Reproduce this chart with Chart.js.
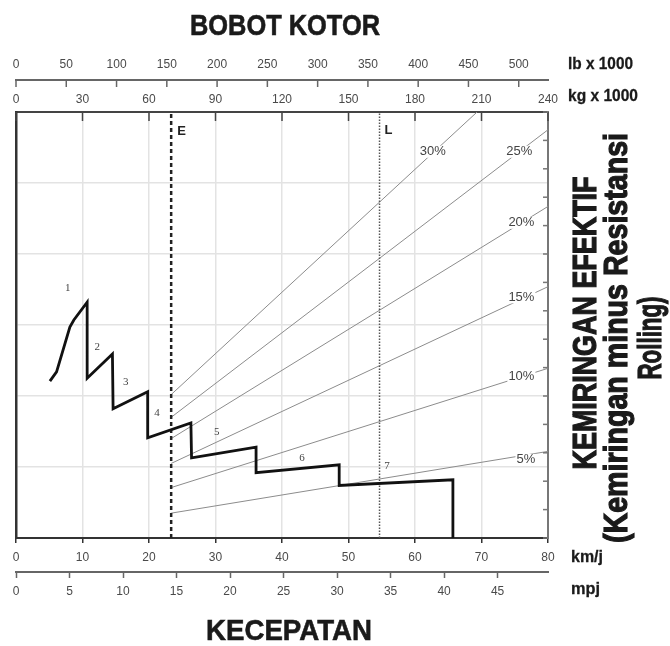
<!DOCTYPE html>
<html>
<head>
<meta charset="utf-8">
<script src="https://cdn.jsdelivr.net/npm/chart.js@4.4.1/dist/chart.umd.min.js"></script>
<style>
  html, body { margin: 0; padding: 0; background: #fff; }
  #wrap { width: 670px; height: 646px; }
</style>
</head>
<body>
<div id="wrap"><canvas id="chart" width="670" height="646"></canvas></div>
<script>
// kurva rimpull (km/j, nilai relatif terhadap grid 0-60)
const rimpullKmh = [5.1, 6.1, 8.1, 8.7, 10.7, 10.7, 14.5, 14.6, 19.8, 19.8, 26.3, 26.4, 36.1, 36.1, 48.6, 48.6, 65.7, 65.7];
const rimpullVal = [22.1, 23.4, 29.7, 30.7, 33.2, 22.5, 25.9, 18.2, 20.6, 14.1, 16.2, 11.3, 12.8, 9.2, 10.3, 7.4, 8.2, 0];

const gearLabels = ['1', '2', '3', '4', '5', '6', '7'];
const gearLabelKmh = [7.8, 12.2, 16.5, 21.2, 30.2, 43.0, 55.8];
const gearLabelVal = [35.2, 26.9, 22.0, 17.6, 14.9, 11.3, 10.1];

// garis kemiringan efektif, mulai dari garis E (bobot kosong), sumbu kg x 1000
const gradeLabels = ['30%', '25%', '20%', '15%', '10%', '5%'];
const gradeStartVal = [20.2, 17.0, 14.0, 10.5, 7.1, 3.5];
const gradeEndKg = [208, 240, 240, 240, 240, 240];
const gradeEndVal = [60, 57.5, 46.7, 35.4, 23.9, 12.2];
const gradeLabelKg = [188, 227, 228, 228, 228, 230];
const gradeLabelVal = [54.4, 54.4, 44.4, 33.9, 22.7, 11.0];

const emptyKg = 70;    // E
const loadedKg = 164;  // L

const kgMax = 240;
const lbMax = 240 / 0.45359;   // 240 000 kg dalam lb
const kmhMax = 80;
const mphMax = 80 / 1.609344;

const narrow = "'Liberation Sans Narrow', 'Liberation Sans', Arial, sans-serif";
const plain = "'Liberation Sans', Arial, sans-serif";

function fitText(ctx, text, x, y, width, align, stroke) {
    const w = ctx.measureText(text).width;
    ctx.save();
    ctx.translate(x, y);
    ctx.scale(width / w, 1);
    ctx.textAlign = align;
    ctx.fillText(text, 0, 0);
    if (stroke) {
        ctx.lineWidth = stroke;
        ctx.strokeStyle = ctx.fillStyle;
        ctx.strokeText(text, 0, 0);
    }
    ctx.restore();
}

// tick kecil yang mengarah ke dalam (sumbu kg, lb dan sisi kanan)
const innerTicks = {
    id: 'innerTicks',
    afterDraw(chart) {
        const ctx = chart.ctx;
        const marks = [
            { id: 'kg', len: 9, color: '#444' },
            { id: 'lb', len: 7, color: '#666' },
            { id: 'y2', len: 5, color: '#777' }
        ];
        ctx.save();
        marks.forEach(m => {
            const s = chart.scales[m.id];
            ctx.strokeStyle = m.color;
            ctx.lineWidth = 1.5;
            s.ticks.forEach(t => {
                const p = s.getPixelForValue(t.value);
                ctx.beginPath();
                if (s.isHorizontal()) {
                    ctx.moveTo(p, s.bottom);
                    ctx.lineTo(p, s.bottom + m.len);
                } else {
                    ctx.moveTo(s.left, p);
                    ctx.lineTo(s.left - m.len, p);
                }
                ctx.stroke();
            });
        });
        ctx.restore();
    }
};

// label di dalam grafik
const plotLabels = {
    id: 'plotLabels',
    afterDatasetsDraw(chart) {
        const ctx = chart.ctx;
        const km = chart.scales.x, kg = chart.scales.kg, y = chart.scales.y;
        ctx.save();
        ctx.textBaseline = 'middle';

        ctx.font = '11px ' + "'Liberation Serif', serif";
        ctx.fillStyle = '#444';
        ctx.textAlign = 'center';
        gearLabels.forEach((g, i) => {
            ctx.fillText(g, km.getPixelForValue(gearLabelKmh[i]), y.getPixelForValue(gearLabelVal[i]));
        });

        ctx.font = '13px ' + narrow;
        gradeLabels.forEach((g, i) => {
            const px = kg.getPixelForValue(gradeLabelKg[i]);
            const py = y.getPixelForValue(gradeLabelVal[i]);
            const w = ctx.measureText(g).width;
            ctx.fillStyle = '#fff';
            ctx.fillRect(px - w / 2 - 1, py - 6, w + 2, 12);
            ctx.fillStyle = '#444';
            ctx.fillText(g, px, py);
        });

        ctx.font = 'bold 13px ' + plain;
        ctx.fillStyle = '#222';
        ctx.textAlign = 'left';
        ctx.fillText('E', kg.getPixelForValue(emptyKg) + 6, y.getPixelForValue(57.2));
        ctx.fillText('L', kg.getPixelForValue(loadedKg) + 5, y.getPixelForValue(57.4));
        ctx.restore();
    }
};

// judul dan satuan sumbu
const outerText = {
    id: 'outerText',
    afterDraw(chart) {
        const ctx = chart.ctx;
        ctx.save();
        ctx.fillStyle = '#1a1a1a';
        ctx.textBaseline = 'alphabetic';

        ctx.font = 'bold 30px ' + narrow;
        fitText(ctx, 'BOBOT KOTOR', 285, 35, 190, 'center', 0.6);
        fitText(ctx, 'KECEPATAN', 289, 640, 166, 'center', 0.6);

        ctx.font = 'bold 17px ' + narrow;
        fitText(ctx, 'lb x 1000', 568, 69, 65, 'left', 0.3);
        fitText(ctx, 'kg x 1000', 568, 101, 70, 'left', 0.3);
        fitText(ctx, 'km/j', 571, 562, 32, 'left', 0.3);
        fitText(ctx, 'mpj', 571, 594, 29, 'left', 0.3);

        ctx.font = 'bold 33px ' + narrow;
        const lines = [
            ['KEMIRINGAN EFEKTIF', 596, 323, 293],
            ['(Kemiringan minus Resistansi', 627, 338, 410],
            ['Rolling)', 661, 338, 83]
        ];
        lines.forEach(([t, bx, cy, w]) => {
            ctx.save();
            ctx.translate(bx, cy);
            ctx.rotate(-Math.PI / 2);
            fitText(ctx, t, 0, 0, w, 'center', 1.2);
            ctx.restore();
        });
        ctx.restore();
    }
};

const tickFont = { family: plain, size: 12 };
const gridLight = '#e3e3e3';

const datasets = [
    {
        label: 'Rimpull',
        data: rimpullKmh.map((x, i) => ({ x, y: rimpullVal[i] })),
        borderColor: '#111',
        borderWidth: 2.8,
        borderJoinStyle: 'miter'
    },
    {
        label: 'E',
        xAxisID: 'kg',
        data: [{ x: emptyKg, y: 0 }, { x: emptyKg, y: 60 }],
        borderColor: '#222',
        borderWidth: 2.5,
        borderDash: [4, 3]
    },
    {
        label: 'L',
        xAxisID: 'kg',
        data: [{ x: loadedKg, y: 0 }, { x: loadedKg, y: 60 }],
        borderColor: '#555',
        borderWidth: 1.5,
        borderDash: [1.5, 1.5]
    }
].concat(gradeLabels.map((g, i) => ({
    label: g,
    xAxisID: 'kg',
    data: [{ x: emptyKg, y: gradeStartVal[i] }, { x: gradeEndKg[i], y: gradeEndVal[i] }],
    borderColor: '#8c8c8c',
    borderWidth: 1
})));

datasets.forEach(d => {
    d.showLine = true;
    d.pointRadius = 0;
    d.fill = false;
    if (!d.xAxisID) d.xAxisID = 'x';
});

new Chart(document.getElementById('chart'), {
    type: 'scatter',
    data: { datasets },
    plugins: [innerTicks, plotLabels, outerText],
    options: {
        responsive: false,
        animation: false,
        layout: { padding: { left: 16, right: 122, top: 50, bottom: 46 } },
        plugins: { legend: { display: false }, tooltip: { enabled: false } },
        scales: {
            x: {
                type: 'linear', position: 'bottom', weight: 0,
                min: 0, max: kmhMax,
                ticks: { stepSize: 10, autoSkip: false, maxRotation: 0, padding: 7, color: '#4a4a4a', font: tickFont },
                grid: { color: gridLight, lineWidth: 1.5, tickColor: '#333', tickLength: 5, tickWidth: 1.5 },
                border: { color: '#333', width: 2 },
                afterFit: s => { s.height = 34; }
            },
            mph: {
                type: 'linear', position: 'bottom', weight: 1,
                min: 0, max: mphMax,
                ticks: { stepSize: 5, includeBounds: false, autoSkip: false, maxRotation: 0, padding: 6, color: '#4a4a4a', font: tickFont },
                grid: { drawOnChartArea: false, tickColor: '#666', tickLength: 6, tickWidth: 1.5 },
                border: { color: '#666', width: 2 },
                afterFit: s => { s.height = 28; }
            },
            kg: {
                type: 'linear', position: 'top', weight: 0,
                min: 0, max: kgMax,
                ticks: { stepSize: 30, autoSkip: false, maxRotation: 0, padding: 5, color: '#4a4a4a', font: tickFont },
                grid: { drawOnChartArea: false, drawTicks: false },
                border: { color: '#444', width: 2 },
                afterFit: s => { s.height = 32; }
            },
            lb: {
                type: 'linear', position: 'top', weight: 1,
                min: 0, max: lbMax,
                ticks: { stepSize: 50, includeBounds: false, autoSkip: false, maxRotation: 0, padding: 8, color: '#4a4a4a', font: tickFont },
                grid: { drawOnChartArea: false, drawTicks: false },
                border: { color: '#666', width: 2 },
                afterFit: s => { s.height = 30; }
            },
            y: {
                type: 'linear', position: 'left',
                min: 0, max: 60,
                ticks: { stepSize: 10, display: false },
                grid: { color: gridLight, lineWidth: 1.5, drawTicks: false },
                border: { color: '#333', width: 2.5 },
                afterFit: s => { s.width = 0; }
            },
            y2: {
                type: 'linear', position: 'right',
                min: 0, max: 60,
                ticks: { stepSize: 4, display: false },
                grid: { drawOnChartArea: false, drawTicks: false },
                border: { color: '#777', width: 2 },
                afterFit: s => { s.width = 0; }
            }
        }
    }
});
</script>
</body>
</html>
